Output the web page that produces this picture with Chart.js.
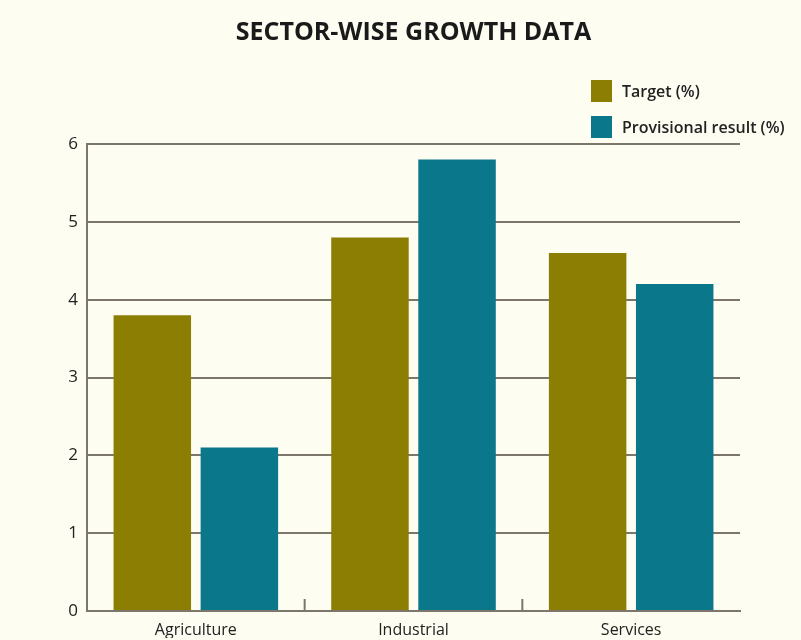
<!DOCTYPE html>
<html>
<head>
<meta charset="utf-8">
<script src="https://cdn.jsdelivr.net/npm/chart.js@4"></script>
<style>
html,body{margin:0;padding:0;background:#fdfdf1;}
#wrap{position:relative;width:801px;height:640px;}
#legend{position:absolute;left:591px;top:80px;font-family:"Open Sans",sans-serif;font-weight:600;font-size:16px;color:#222;}
.item{display:flex;align-items:center;height:22px;margin-bottom:14px;}
.box{width:21px;height:22px;margin-right:10px;}
</style>
</head>
<body>
<div id="wrap">
<canvas id="growthChart" width="801" height="640"></canvas>
<div id="legend"></div>
</div>
<script>

const sectors = ["Agriculture", "Industrial", "Services"]
const targetValues = [3.8, 4.8, 4.6]
const provisionalValues = [2.1, 5.8, 4.2]
const seriesNames = ["Target (%)", "Provisional result (%)"]
const seriesColors = ["#8c7e02", "#0a778a"]

const gridColor = "#7d776b"

// short marks between categories, sitting on the base line
const sectorTicks = {
id: "sectorTicks",
afterDraw(chart){
const ctx = chart.ctx
const x = chart.scales.x
const y = chart.scales.y
ctx.save()
ctx.strokeStyle = gridColor
ctx.lineWidth = 2
for(let i=0;i<sectors.length-1;i++){
const px = x.getPixelForValue(i+0.5)
ctx.beginPath()
ctx.moveTo(px, y.getPixelForValue(0))
ctx.lineTo(px, y.getPixelForValue(0)-12)
ctx.stroke()
}
ctx.restore()
}
}

const chart = new Chart(document.getElementById("growthChart"),{

type:"bar",

data:{
labels:sectors,
datasets:[
{label:seriesNames[0], data:targetValues, backgroundColor:seriesColors[0]},
{label:seriesNames[1], data:provisionalValues, backgroundColor:seriesColors[1]}
]
},

options:{
responsive:false,
animation:false,
layout:{padding:{left:57,right:61,top:18,bottom:2}},
datasets:{bar:{categoryPercentage:0.8,barPercentage:0.89}},
plugins:{
legend:{display:false},
tooltip:{enabled:false},
title:{
display:true,
fullSize:false,
text:"SECTOR-WISE GROWTH DATA",
color:"#1a1a1a",
font:{family:"Open Sans",size:25,weight:"bold"},
padding:{top:0,bottom:96}
}
},
scales:{
x:{
afterFit(scale){ scale.height = 27 },
grid:{display:false},
border:{display:true,color:gridColor,width:2},
ticks:{color:"#222",padding:2,font:{family:"Open Sans",size:16}}
},
y:{
min:0,
max:6,
afterFit(scale){ scale.width = 30 },
grid:{color:gridColor,lineWidth:2,drawTicks:false},
border:{display:true,color:gridColor,width:2},
ticks:{stepSize:1,color:"#222",padding:9,font:{family:"Open Sans",size:17}}
}
}
},

plugins:[sectorTicks]

})

const legend = document.getElementById("legend")
chart.data.datasets.forEach(ds=>{
const item = document.createElement("div")
item.className = "item"
item.innerHTML = `<span class="box" style="background:${ds.backgroundColor}"></span><span>${ds.label}</span>`
legend.appendChild(item)
})

</script>
</body>
</html>
